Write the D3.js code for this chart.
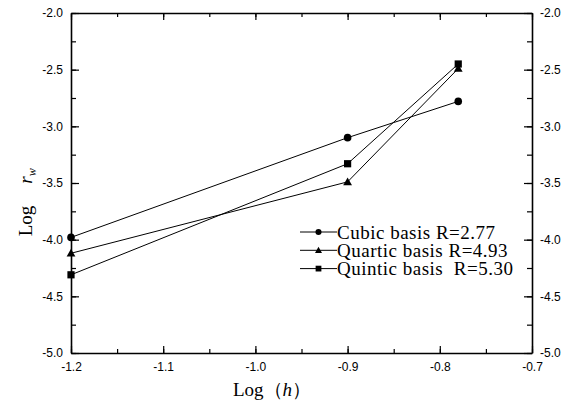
<!DOCTYPE html>
<html>
<head>
<meta charset="utf-8">
<script src="https://cdn.jsdelivr.net/npm/d3@7"></script>
<style>
  body { margin: 0; background: #fff; }
  svg { display: block; }
  .tick text { font-family: "Liberation Sans", Arial, sans-serif; font-size: 12px; fill: #000; }
  .legend text { font-family: "Liberation Serif", "Times New Roman", serif; font-size: 19px; letter-spacing: 0.5px; white-space: pre; }
</style>
</head>
<body>
<svg id="chart" width="574" height="406"></svg>
<script>
const logH = [-1.2, -0.9, -0.78];
const cubic = [-3.98, -3.10, -2.78];
const quartic = [-4.12, -3.49, -2.49];
const quintic = [-4.31, -3.33, -2.45];
const seriesNames = ["Cubic basis R=2.77", "Quartic basis R=4.93", "Quintic basis  R=5.30"];
const seriesShapes = ["circle", "triangle", "square"];
const xTicks = [-1.2, -1.1, -1.0, -0.9, -0.8, -0.7];
const yTicks = [-2.0, -2.5, -3.0, -3.5, -4.0, -4.5, -5.0];

const margin = {left: 71, right: 42, top: 13, bottom: 53};
const width = 574, height = 406;
const svg = d3.select("#chart");

const x = d3.scaleLinear().domain([-1.2, -0.7]).range([margin.left, width - margin.right]);
const y = d3.scaleLinear().domain([-5.0, -2.0]).range([height - margin.bottom, margin.top]);

// plain hyphen instead of the unicode minus
const fmt = (v) => d3.format(".1f")(v).replace("\u2212", "-");
const minorX = d3.range(-1.2, -0.69, 0.05);
const minorY = d3.range(-5.0, -1.99, 0.25);

function styleAxis(g) {
    g.select(".domain").attr("stroke", "#000").attr("stroke-width", 1.6);
    g.selectAll(".tick line").attr("stroke", "#000").attr("stroke-width", 1.2);
}

// minor ticks (inside the frame)
function minor(axis, vals, size) {
    return axis.tickValues(vals).tickSize(size).tickFormat("");
}
svg.append("g").attr("transform", `translate(0,${y.range()[0]})`)
    .call(minor(d3.axisTop(x), minorX, 4)).call(styleAxis).select(".domain").remove();
svg.append("g").attr("transform", `translate(0,${y.range()[1]})`)
    .call(minor(d3.axisBottom(x), minorX, 4)).call(styleAxis).select(".domain").remove();
svg.append("g").attr("transform", `translate(${x.range()[0]},0)`)
    .call(minor(d3.axisRight(y), minorY, 5)).call(styleAxis).select(".domain").remove();
svg.append("g").attr("transform", `translate(${x.range()[1]},0)`)
    .call(minor(d3.axisLeft(y), minorY, 5)).call(styleAxis).select(".domain").remove();

// major ticks + labels
const bottom = svg.append("g").attr("transform", `translate(0,${y.range()[0]})`)
    .call(d3.axisBottom(x).tickValues(xTicks).tickFormat(fmt).tickSizeOuter(0).tickSizeInner(-7).tickPadding(12))
    .call(styleAxis);
bottom.selectAll(".tick text").attr("dy", "0.5em");
svg.append("g").attr("transform", `translate(0,${y.range()[1]})`)
    .call(d3.axisTop(x).tickValues(xTicks).tickFormat("").tickSizeOuter(0).tickSizeInner(-7))
    .call(styleAxis);
svg.append("g").attr("transform", `translate(${x.range()[0]},0)`)
    .call(d3.axisLeft(y).tickValues(yTicks).tickFormat(fmt).tickSizeOuter(0).tickSizeInner(-8).tickPadding(8))
    .call(styleAxis);
svg.append("g").attr("transform", `translate(${x.range()[1]},0)`)
    .call(d3.axisRight(y).tickValues(yTicks).tickFormat(fmt).tickSizeOuter(0).tickSizeInner(-8).tickPadding(8))
    .call(styleAxis);

// series
const series = [cubic, quartic, quintic];
const line = d3.line().x((d, i) => x(logH[i])).y(d => y(d));

function drawMarker(g, shape, cx, cy, s) {
    if (shape === "circle") {
        g.append("circle").attr("cx", cx).attr("cy", cy).attr("r", 3.8 * s).attr("fill", "#000");
    } else if (shape === "square") {
        const h = 3.6 * s;
        g.append("rect").attr("x", cx - h).attr("y", cy - h).attr("width", 2 * h).attr("height", 2 * h).attr("fill", "#000");
    } else {
        const h = 4.4 * s;
        g.append("path").attr("d", `M${cx},${cy - h}L${cx + h},${cy + h * 0.75}L${cx - h},${cy + h * 0.75}Z`).attr("fill", "#000");
    }
}

series.forEach((vals, k) => {
    const g = svg.append("g");
    g.append("path").attr("d", line(vals)).attr("fill", "none").attr("stroke", "#000").attr("stroke-width", 1);
    vals.forEach((v, i) => drawMarker(g, seriesShapes[k], x(logH[i]), y(v), 1));
});

// legend
const legend = svg.append("g").attr("class", "legend");
seriesNames.forEach((name, k) => {
    const ly = 232 + k * 18.3;
    legend.append("line").attr("x1", 300).attr("x2", 337).attr("y1", ly).attr("y2", ly)
        .attr("stroke", "#000").attr("stroke-width", 1);
    drawMarker(legend, seriesShapes[k], 318.5, ly, 0.8);
    legend.append("text").attr("x", 337).attr("y", ly).attr("dy", "0.35em").text(name);
});

// axis titles
const serif = "\"Liberation Serif\", \"Times New Roman\", serif";
const xt = svg.append("text")
    .attr("x", 272).attr("y", 396)
    .attr("text-anchor", "middle")
    .attr("font-family", serif)
    .attr("font-size", 19);
xt.append("tspan").text("Log（");
xt.append("tspan").attr("font-style", "italic").text("h");
xt.append("tspan").text("）");

svg.append("text")
    .attr("transform", "translate(32,221) rotate(-90)")
    .attr("text-anchor", "middle")
    .attr("font-family", serif)
    .attr("font-size", 19)
    .text("Log");
const rw = svg.append("text")
    .attr("transform", "translate(32,176) rotate(-90)")
    .attr("text-anchor", "middle")
    .attr("font-family", serif)
    .attr("font-size", 19);
rw.append("tspan").attr("font-style", "italic").text("r");
rw.append("tspan").attr("font-style", "italic").attr("font-size", 12).attr("dy", 4).text("w");
</script>
</body>
</html>
